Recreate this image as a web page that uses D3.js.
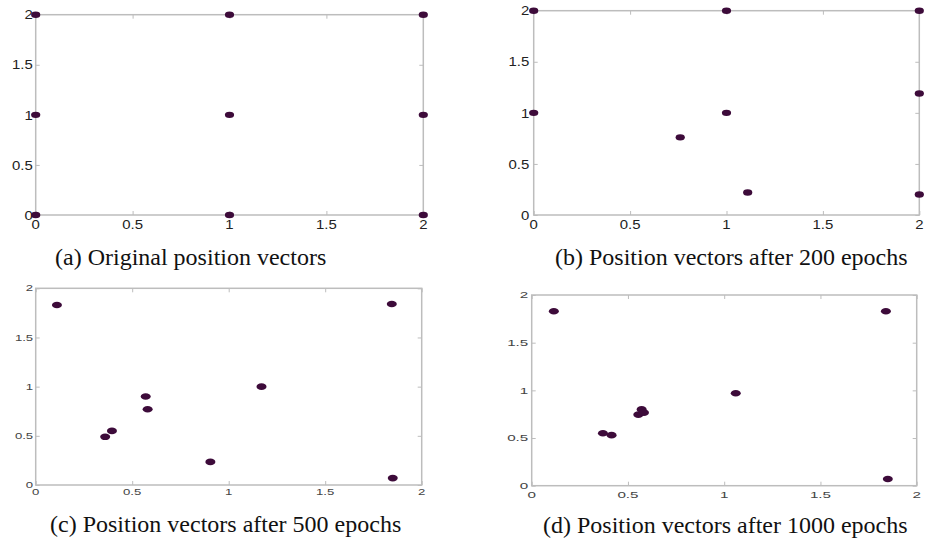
<!DOCTYPE html>
<html>
<head>
<meta charset="utf-8">
<script src="https://cdn.jsdelivr.net/npm/d3@7"></script>
<style>
  body { margin: 0; background: #fff; }
  .caption { font-family: "Liberation Serif", "Times New Roman", serif; font-size: 24px; fill: #111; }
  .tickLab { font-family: "Liberation Sans", Arial, sans-serif; }
</style>
</head>
<body>
<svg id="chart" width="926" height="544"></svg>
<script>
// ---------------- data ----------------
const tickValues = [0, 0.5, 1, 1.5, 2];
const tickLabels = ["0", "0.5", "1", "1.5", "2"];

const captions = [
  "(a) Original position vectors",
  "(b) Position vectors after 200 epochs",
  "(c) Position vectors after 500 epochs",
  "(d) Position vectors after 1000 epochs"
];

// (a) original grid
const origX = [0, 1, 2, 0, 1, 2, 0, 1, 2];
const origY = [2, 2, 2, 1, 1, 1, 0, 0, 0];
// (b) after 200 epochs
const ep200X = [0, 1, 2, 0, 1, 2, 0.76, 1.11, 2];
const ep200Y = [2, 2, 2, 1, 1, 1.19, 0.76, 0.22, 0.2];
// (c) after 500 epochs
const ep500X = [0.11, 1.845, 0.57, 0.58, 0.395, 0.36, 1.17, 0.905, 1.85];
const ep500Y = [1.83, 1.84, 0.90, 0.77, 0.55, 0.49, 1.0, 0.235, 0.07];
// (d) after 1000 epochs
const ep1000X = [0.115, 1.84, 1.85, 1.06, 0.37, 0.415, 0.554, 0.571, 0.583];
const ep1000Y = [1.83, 1.83, 0.07, 0.97, 0.55, 0.53, 0.745, 0.80, 0.766];

// ---------------- layout ----------------
const panels = [
  {xs: origX, ys: origY, box: {l: 35.7, r: 423.3, t: 14.7, b: 215}, capX: 55, capY: 265,
   fs: 13, sx: 1.15, xLabY: 229, yGap: 3, labCol: "#222", rx: 4.6, ry: 3.2},
  {xs: ep200X, ys: ep200Y, box: {l: 533.7, r: 919.3, t: 10.7, b: 215}, capX: 555, capY: 265,
   fs: 13, sx: 1.15, xLabY: 229, yGap: 4.5, labCol: "#222", rx: 4.6, ry: 3.2},
  {xs: ep500X, ys: ep500Y, box: {l: 35.7, r: 421.7, t: 288.3, b: 485}, capX: 50, capY: 532,
   fs: 8.5, sx: 1.55, xLabY: 495, yGap: 2.5, labCol: "#444", rx: 5, ry: 3.3},
  {xs: ep1000X, ys: ep1000Y, box: {l: 531.7, r: 916.7, t: 295, b: 485.7}, capX: 543, capY: 533,
   fs: 9.5, sx: 1.6, xLabY: 497.5, yGap: 3.4, labCol: "#444", rx: 5, ry: 3.3}
];

const svg = d3.select("#chart");
const axisCol = "#bdbdbd";

panels.forEach((p, i) => {
  const x = d3.scaleLinear().domain([0, 2]).range([p.box.l, p.box.r]);
  const y = d3.scaleLinear().domain([0, 2]).range([p.box.b, p.box.t]);
  const g = svg.append("g");

  // inward ticks on all four sides (matlab box style)
  const tick = 4;
  const addAxis = (axis, tx, ty) => {
    const a = g.append("g").attr("transform", `translate(${tx},${ty})`).call(axis);
    a.selectAll("text").remove();
    a.select(".domain").remove();
    a.selectAll("line").attr("stroke", axisCol).attr("stroke-width", 1);
  };
  addAxis(d3.axisBottom(x).tickValues(tickValues).tickSize(-tick), 0, p.box.b);
  addAxis(d3.axisTop(x).tickValues(tickValues).tickSize(-tick), 0, p.box.t);
  addAxis(d3.axisLeft(y).tickValues(tickValues).tickSize(-tick), p.box.l, 0);
  addAxis(d3.axisRight(y).tickValues(tickValues).tickSize(-tick), p.box.r, 0);

  // box
  g.append("rect")
    .attr("x", p.box.l).attr("y", p.box.t)
    .attr("width", p.box.r - p.box.l).attr("height", p.box.b - p.box.t)
    .attr("fill", "none").attr("stroke", axisCol).attr("stroke-width", 1.5);

  // tick labels, stretched horizontally like the scanned figure
  g.selectAll(".xl").data(tickValues).enter().append("text")
    .attr("class", "tickLab")
    .attr("text-anchor", "middle")
    .attr("font-size", p.fs).attr("fill", p.labCol)
    .attr("transform", d => `translate(${x(d)},${p.xLabY}) scale(${p.sx},1)`)
    .text((d, k) => tickLabels[k]);

  g.selectAll(".yl").data(tickValues).enter().append("text")
    .attr("class", "tickLab")
    .attr("text-anchor", "end")
    .attr("dy", "0.36em")
    .attr("font-size", p.fs).attr("fill", p.labCol)
    .attr("transform", d => `translate(${p.box.l - p.yGap},${y(d)}) scale(${p.sx},1)`)
    .text((d, k) => tickLabels[k]);

  // points
  const pts = d3.zip(p.xs, p.ys);
  g.selectAll(".pt").data(pts).enter().append("ellipse")
    .attr("cx", d => x(d[0])).attr("cy", d => y(d[1]))
    .attr("rx", p.rx).attr("ry", p.ry)
    .attr("fill", "#3d0b3a");

  // caption
  svg.append("text").attr("class", "caption")
    .attr("x", p.capX).attr("y", p.capY)
    .text(captions[i]);
});
</script>
</body>
</html>
